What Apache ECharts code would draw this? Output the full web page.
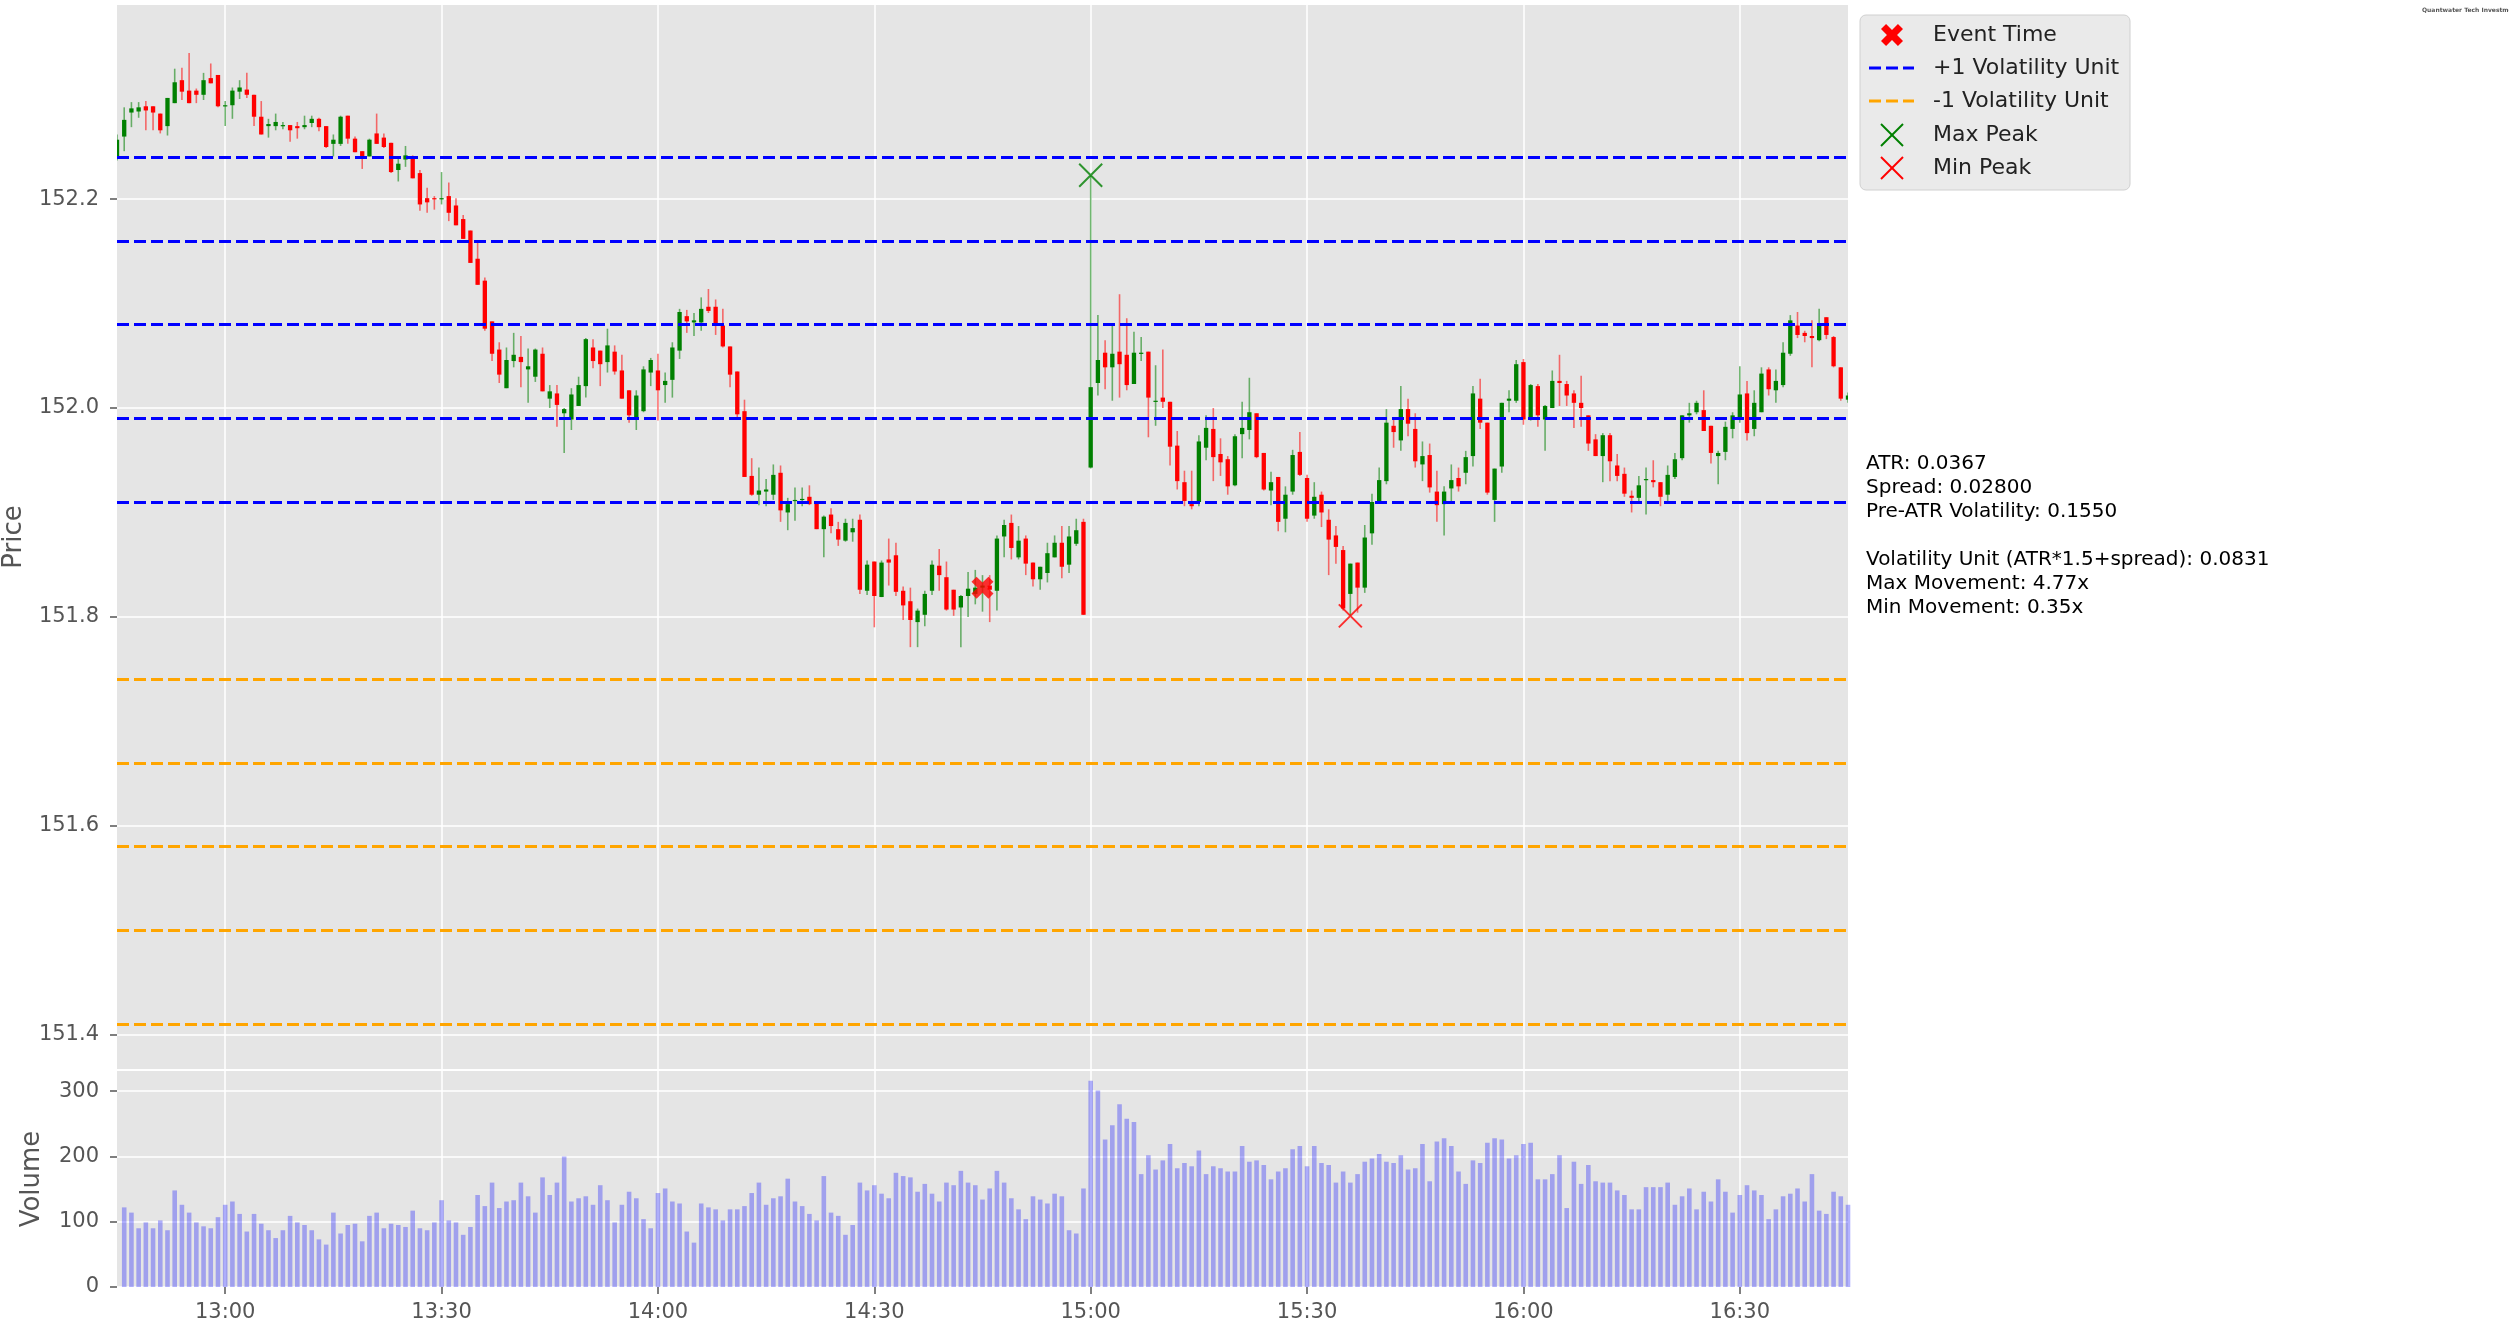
<!DOCTYPE html>
<html>
<head>
<meta charset="utf-8">
<title>Event volatility chart</title>
<script src="https://cdn.jsdelivr.net/npm/echarts@6.0.0/dist/echarts.min.js"></script>
<style>
  html, body { margin: 0; padding: 0; background: #ffffff; }
  #main { width: 2509px; height: 1325px; }
</style>
</head>
<body>
<div id="main"></div>
<script>
// 1分钟K线 12:45 - 16:45
var startMinute = 12 * 60 + 45;
var barCount = 241;
var times = [];
for (var i = 0; i < barCount; i++) {
    var m = startMinute + i;
    times.push(('0' + Math.floor(m / 60)).slice(-2) + ':' + ('0' + (m % 60)).slice(-2));
}

var openP = [
152.241,152.260,152.283,152.284,152.289,152.289,152.282,152.270,152.292,152.314,
152.304,152.304,152.300,152.316,152.319,152.289,152.290,152.303,152.305,152.300,
152.279,152.270,152.270,152.270,152.271,152.270,152.269,152.273,152.277,152.270,
152.253,152.253,152.280,152.258,152.246,152.241,152.263,152.259,152.254,152.228,
152.238,152.239,152.225,152.201,152.201,152.200,152.203,152.194,152.181,152.170,
152.143,152.122,152.083,152.056,152.019,152.045,152.049,152.037,152.030,152.052,
152.009,152.014,151.995,151.989,152.002,152.021,152.058,152.055,152.044,152.054,
152.036,152.017,151.989,151.997,152.034,152.036,152.022,152.027,152.055,152.088,
152.082,152.082,152.097,152.097,152.079,152.059,152.035,151.997,151.935,151.917,
151.920,151.917,151.938,151.900,151.911,151.912,151.915,151.910,151.884,151.898,
151.884,151.873,151.881,151.893,151.825,151.853,151.819,151.855,151.859,151.825,
151.815,151.795,151.802,151.825,151.849,151.838,151.826,151.809,151.820,151.822,
151.828,151.830,151.825,151.877,151.890,151.857,151.875,151.852,151.836,151.842,
151.857,151.871,151.850,151.870,151.891,151.943,152.024,152.053,152.039,152.054,
152.051,152.023,152.052,152.054,152.006,152.010,152.006,151.964,151.929,151.908,
151.910,151.962,151.980,151.956,151.951,151.926,151.975,151.979,151.995,151.957,
151.921,151.934,151.894,151.920,151.958,151.933,151.897,151.917,151.893,151.878,
151.864,151.822,151.852,151.828,151.880,151.910,151.930,151.983,151.969,151.999,
151.980,151.946,151.955,151.920,151.908,151.923,151.933,151.938,151.954,152.009,
151.986,151.912,151.944,152.007,152.007,152.044,151.989,152.021,151.989,152.000,
152.026,152.023,152.014,152.005,151.993,151.970,151.954,151.974,151.945,151.937,
151.916,151.914,151.931,151.931,151.929,151.917,151.934,151.952,151.993,151.996,
151.998,151.983,151.954,151.958,151.980,151.989,152.014,151.980,151.996,152.037,
152.017,152.022,152.052,152.079,152.072,152.069,152.065,152.087,152.068,152.039,
152.008
];
var closeP = [
152.257,152.276,152.287,152.288,152.285,152.283,152.266,152.297,152.312,152.303,
152.292,152.300,152.314,152.311,152.289,152.290,152.304,152.307,152.300,152.279,
152.262,152.272,152.274,152.271,152.266,152.268,152.271,152.277,152.269,152.250,
152.257,152.279,152.258,152.245,152.241,152.257,152.253,152.250,152.226,152.234,
152.242,152.220,152.195,152.197,152.200,152.201,152.187,152.175,152.162,152.139,
152.118,152.076,152.052,152.032,152.046,152.051,152.044,152.040,152.056,152.016,
152.016,152.003,151.999,152.013,152.022,152.066,152.045,152.042,152.060,152.035,
152.009,151.993,152.012,152.037,152.046,152.017,152.026,152.058,152.092,152.083,
152.084,152.095,152.093,152.080,152.059,152.032,151.994,151.934,151.917,151.921,
151.922,151.936,151.902,151.908,151.912,151.913,151.908,151.884,151.896,151.887,
151.874,151.890,151.885,151.826,151.850,151.820,151.852,151.852,151.824,151.811,
151.797,151.806,151.822,151.850,151.840,151.807,151.807,151.820,151.827,151.828,
151.830,151.826,151.875,151.888,151.866,151.873,151.851,151.836,151.848,151.861,
151.871,151.848,151.877,151.883,151.802,152.020,152.046,152.039,152.052,152.042,
152.022,152.053,152.053,152.010,152.007,152.006,151.963,151.930,151.911,151.906,
151.968,151.981,151.953,151.948,151.925,151.973,151.981,151.996,151.953,151.922,
151.929,151.891,151.917,151.955,151.936,151.894,151.915,151.900,151.874,151.867,
151.808,151.851,151.828,151.876,151.910,151.931,151.986,151.977,151.999,151.985,
151.949,151.954,151.924,151.907,151.920,151.931,151.925,151.953,152.014,151.986,
151.919,151.942,152.005,152.009,152.042,151.989,152.022,151.993,152.002,152.026,
152.024,152.012,152.005,152.000,151.966,151.954,151.974,151.949,151.935,151.918,
151.914,151.926,151.932,151.929,151.915,151.936,151.951,151.993,151.995,152.005,
151.978,151.957,151.957,151.982,151.993,152.013,151.976,152.005,152.033,152.018,
152.026,152.053,152.084,152.070,152.069,152.067,152.080,152.070,152.040,152.009,
152.012
];
var lowP = [
152.237,152.246,152.269,152.278,152.266,152.266,152.263,152.261,152.292,152.295,
152.292,152.292,152.295,152.311,152.288,152.270,152.277,152.296,152.297,152.270,
152.262,152.259,152.266,152.267,152.255,152.258,152.267,152.269,152.265,152.249,
152.241,152.251,152.253,152.245,152.229,152.241,152.253,152.249,152.225,152.217,
152.231,152.220,152.189,152.187,152.190,152.195,152.179,152.175,152.162,152.139,
152.118,152.074,152.045,152.024,152.019,152.039,152.020,152.005,152.025,152.016,
152.000,151.982,151.957,151.979,152.002,152.010,152.038,152.021,152.034,152.032,
152.009,151.986,151.979,151.996,152.021,151.988,152.005,152.010,152.047,152.072,
152.069,152.074,152.091,152.070,152.058,152.020,151.990,151.934,151.916,151.907,
151.906,151.912,151.891,151.883,151.892,151.906,151.907,151.884,151.857,151.880,
151.868,151.872,151.872,151.822,151.821,151.790,151.819,151.830,151.820,151.797,
151.771,151.771,151.791,151.821,151.825,151.806,151.801,151.771,151.800,151.812,
151.805,151.795,151.806,151.857,151.855,151.855,151.840,151.829,151.826,151.833,
151.857,151.837,151.842,151.868,151.802,151.942,152.012,152.018,152.007,152.010,
152.017,152.023,152.045,151.972,151.983,152.000,151.945,151.922,151.906,151.903,
151.906,151.950,151.930,151.935,151.917,151.925,151.952,151.970,151.952,151.921,
151.907,151.882,151.881,151.917,151.935,151.891,151.894,151.886,151.840,151.851,
151.806,151.801,151.804,151.823,151.869,151.910,151.927,151.962,151.959,151.973,
151.943,151.930,151.919,151.891,151.878,151.910,151.920,151.927,151.944,151.980,
151.917,151.891,151.938,151.996,152.005,151.984,151.988,151.982,151.959,152.000,
152.002,152.002,151.981,151.982,151.959,151.954,151.929,151.930,151.930,151.915,
151.900,151.910,151.898,151.924,151.906,151.909,151.932,151.950,151.986,151.994,
151.978,151.947,151.927,151.950,151.971,151.986,151.969,151.973,151.996,152.012,
152.005,152.020,152.050,152.067,152.063,152.039,152.064,152.066,152.039,152.007,
152.005
];
var highP = [
152.262,152.288,152.293,152.293,152.294,152.289,152.282,152.297,152.325,152.326,
152.340,152.306,152.321,152.330,152.319,152.294,152.307,152.314,152.321,152.300,
152.294,152.277,152.282,152.274,152.271,152.274,152.280,152.280,152.278,152.270,
152.262,152.280,152.280,152.260,152.246,152.258,152.282,152.263,152.254,152.241,
152.251,152.242,152.228,152.211,152.203,152.226,152.216,152.201,152.185,152.170,
152.159,152.125,152.083,152.063,152.058,152.072,152.069,152.057,152.057,152.058,
152.022,152.022,152.000,152.019,152.030,152.067,152.066,152.055,152.076,152.060,
152.051,152.017,152.017,152.040,152.048,152.052,152.034,152.063,152.095,152.094,
152.091,152.106,152.114,152.104,152.095,152.059,152.035,152.008,151.952,151.943,
151.932,151.946,151.945,151.914,151.924,151.924,151.926,151.910,151.897,151.904,
151.891,151.894,151.894,151.898,151.854,151.853,151.854,151.875,151.871,151.829,
151.828,151.808,151.825,151.854,151.865,151.853,151.826,151.821,151.843,151.845,
151.840,151.840,151.878,151.893,151.898,151.887,151.878,151.852,151.848,151.871,
151.878,151.887,151.887,151.894,151.894,152.223,152.089,152.065,152.079,152.109,
152.086,152.073,152.068,152.054,152.041,152.056,152.006,151.978,151.940,151.940,
151.974,151.993,152.000,151.971,151.954,151.975,152.006,152.029,151.995,151.957,
151.939,151.934,151.925,151.960,151.977,151.936,151.929,151.920,151.903,151.887,
151.868,151.851,151.852,151.888,151.918,151.943,151.999,151.989,152.021,152.009,
151.995,151.968,151.966,151.940,151.925,151.946,151.943,151.959,152.021,152.028,
151.986,151.942,152.005,152.017,152.046,152.047,152.023,152.023,152.003,152.036,
152.051,152.026,152.017,152.031,151.993,151.975,151.976,151.976,151.956,151.943,
151.921,151.935,151.943,151.950,151.929,151.945,151.957,151.993,152.005,152.007,
152.017,151.983,151.959,151.987,151.996,152.040,152.026,152.017,152.039,152.039,
152.037,152.063,152.089,152.092,152.074,152.084,152.095,152.087,152.069,152.039,
152.015
];
// 第一根K线没有成交量柱
var volume = [
null,122,114,90,99,90,102,87,148,126,
114,99,93,90,107,126,131,112,85,112,
97,87,75,87,109,99,95,87,73,65,
114,82,95,97,70,109,114,90,97,95,
92,117,90,87,99,133,102,99,80,92,
141,124,160,121,131,133,160,139,114,168,
141,160,200,131,136,139,126,156,133,99,
126,146,136,104,90,144,151,131,128,85,
68,128,122,119,102,119,119,124,144,160,
126,136,139,166,131,124,112,102,170,114,
109,80,95,160,148,156,143,136,175,170,
168,146,158,143,131,160,156,178,160,156,
134,151,178,160,136,119,104,139,134,128,
143,139,87,82,151,316,301,226,248,280,
258,253,173,202,180,194,219,182,190,185,
209,173,185,182,177,177,216,192,194,187,
165,177,182,211,216,185,216,190,187,160,
177,160,173,192,197,204,192,190,202,180,
182,219,162,223,228,216,177,158,194,190,
221,228,226,197,202,219,221,165,165,173,
202,121,192,158,187,162,160,160,148,141,
119,119,153,153,153,160,126,139,151,119,
146,131,165,146,114,141,156,148,141,104,
119,139,143,151,131,173,117,112,146,139,
126
];

// 波动单位线 (±1..5 个单位)
var upperLevels = [151.911, 151.994, 152.077, 152.160, 152.243];
var lowerLevels = [151.744, 151.661, 151.578, 151.495, 151.412];

var eventPoint = ['14:45', 151.828];
var maxPeakPoint = ['15:00', 152.223];
var minPeakPoint = ['15:36', 151.801];

var priceTicks = [151.4, 151.6, 151.8, 152.0, 152.2];
var volumeTicks = [0, 100, 200, 300];

var infoLines = [
    'ATR: 0.0367',
    'Spread: 0.02800',
    'Pre-ATR Volatility: 0.1550',
    '',
    'Volatility Unit (ATR*1.5+spread): 0.0831',
    'Max Movement: 4.77x',
    'Min Movement: 0.35x'
];

var FONT = 'DejaVu Sans';
var bigX = 'path://M0,-4.6L5.4,-10L10,-5.4L4.6,0L10,5.4L5.4,10L0,4.6L-5.4,10L-10,5.4L-4.6,0L-10,-5.4L-5.4,-10Z';
var thinX = 'path://M0,0L20,20M20,0L0,20';

var candleData = [];
for (var i = 0; i < barCount; i++) {
    candleData.push([i, openP[i], closeP[i], lowP[i], highP[i]]);
}

function halfHour(index, value) {
    var mm = String(value).slice(3);
    return mm === '00' || mm === '30';
}

// 画蜡烛: 影线半透明, 实体实色
function renderCandle(params, api) {
    var x = api.value(0);
    var o = api.value(1), c = api.value(2), l = api.value(3), h = api.value(4);
    var pO = api.coord([x, o]);
    var pC = api.coord([x, c]);
    var pL = api.coord([x, l]);
    var pH = api.coord([x, h]);
    var w = api.size([1, 0])[0] * 0.6;
    var col = c >= o ? '#008000' : '#ff0000';
    var top = Math.min(pO[1], pC[1]);
    var hgt = Math.max(Math.abs(pO[1] - pC[1]), 1.2);
    return {
        type: 'group',
        children: [
            { type: 'line', shape: { x1: pH[0], y1: pH[1], x2: pL[0], y2: pL[1] },
              style: { stroke: col, lineWidth: 1.6, opacity: 0.55 } },
            { type: 'rect', shape: { x: pO[0] - w / 2, y: top, width: w, height: hgt },
              style: { fill: col } }
        ]
    };
}

// 图例里的粗 X (与 bigX 同形)
function bigXPoints(cx, cy, s) {
    var k = s / 20;
    var pts = [[0,-4.6],[5.4,-10],[10,-5.4],[4.6,0],[10,5.4],[5.4,10],[0,4.6],[-5.4,10],[-10,5.4],[-4.6,0],[-10,-5.4],[-5.4,-10]];
    return pts.map(function (p) { return [cx + p[0] * k, cy + p[1] * k]; });
}

var myChart = echarts.init(document.getElementById('main'), null, { renderer: 'canvas' });

var legendX = 1892, textX = 1933;
var rowY = [35, 68, 101, 135, 168];

var option = {
    animation: false,
    backgroundColor: '#ffffff',
    textStyle: { fontFamily: FONT },
    grid: [
        { left: 117, top: 5, width: 1731, height: 1064, show: true, backgroundColor: '#E5E5E5', borderWidth: 0,
          containLabel: false, outerBoundsMode: 'none' },
        { left: 117, top: 1071, width: 1731, height: 216, show: true, backgroundColor: '#E5E5E5', borderWidth: 0,
          containLabel: false, outerBoundsMode: 'none' }
    ],
    xAxis: [
        {
            type: 'category', gridIndex: 0, data: times, boundaryGap: false,
            axisLine: { show: false }, axisTick: { show: false }, axisLabel: { show: false },
            splitLine: { show: true, interval: halfHour, lineStyle: { color: '#ffffff', width: 1.5 } }
        },
        {
            type: 'category', gridIndex: 1, data: times, boundaryGap: false,
            axisLine: { show: false },
            axisTick: { show: true, interval: halfHour, length: 7, lineStyle: { color: '#555555', width: 1.5 } },
            axisLabel: { interval: halfHour, color: '#555555', fontSize: 21, margin: 15, fontFamily: FONT },
            splitLine: { show: true, interval: halfHour, lineStyle: { color: '#ffffff', width: 1.5 } }
        }
    ],
    yAxis: [
        {
            type: 'value', gridIndex: 0, min: 151.367, max: 152.386,
            name: 'Price', nameLocation: 'middle', nameGap: 90,
            nameTextStyle: { fontSize: 26, color: '#555555', fontFamily: FONT },
            axisLine: { show: false },
            axisTick: { show: true, customValues: priceTicks, length: 7, lineStyle: { color: '#555555', width: 1.5 } },
            axisLabel: { customValues: priceTicks, color: '#555555', fontSize: 21, margin: 18, fontFamily: FONT,
                formatter: function (v) { return Number(v).toFixed(1); } },
            splitLine: { show: true, lineStyle: { color: '#ffffff', width: 1.5 } }
        },
        {
            type: 'value', gridIndex: 1, min: 0, max: 331,
            name: 'Volume', nameLocation: 'middle', nameGap: 72,
            nameTextStyle: { fontSize: 26, color: '#555555', fontFamily: FONT },
            axisLine: { show: false },
            axisTick: { show: true, customValues: volumeTicks, length: 7, lineStyle: { color: '#555555', width: 1.5 } },
            axisLabel: { customValues: volumeTicks, color: '#555555', fontSize: 21, margin: 18, fontFamily: FONT },
            splitLine: { show: true, lineStyle: { color: '#ffffff', width: 1.5 } }
        }
    ],
    series: [
        {
            name: 'Price', type: 'custom', xAxisIndex: 0, yAxisIndex: 0,
            renderItem: renderCandle, data: candleData, clip: true, z: 2,
            encode: { x: 0, y: [1, 2, 3, 4] }
        },
        {
            name: 'Volume', type: 'bar', xAxisIndex: 1, yAxisIndex: 1,
            data: volume, barWidth: 4.6, clip: true,
            itemStyle: { color: 'rgba(0,0,255,0.3)' }
        },
        {
            name: '+1 Volatility Unit', type: 'line', xAxisIndex: 0, yAxisIndex: 0, data: [], z: 3,
            markLine: {
                silent: true, symbol: ['none', 'none'], label: { show: false },
                lineStyle: { color: '#0000ff', type: [12, 5], width: 3 },
                data: upperLevels.map(function (v) { return { yAxis: v }; })
            }
        },
        {
            name: '-1 Volatility Unit', type: 'line', xAxisIndex: 0, yAxisIndex: 0, data: [], z: 3,
            markLine: {
                silent: true, symbol: ['none', 'none'], label: { show: false },
                lineStyle: { color: '#ffa500', type: [12, 5], width: 3 },
                data: lowerLevels.map(function (v) { return { yAxis: v }; })
            }
        },
        {
            name: 'Event Time', type: 'scatter', xAxisIndex: 0, yAxisIndex: 0, z: 5,
            data: [eventPoint], symbol: bigX, symbolSize: 22,
            itemStyle: { color: '#ff0000' }
        },
        {
            name: 'Max Peak', type: 'scatter', xAxisIndex: 0, yAxisIndex: 0, z: 5,
            data: [maxPeakPoint], symbol: thinX, symbolSize: 23,
            itemStyle: { color: 'rgba(0,0,0,0)', borderColor: '#008000', borderWidth: 2 }
        },
        {
            name: 'Min Peak', type: 'scatter', xAxisIndex: 0, yAxisIndex: 0, z: 5,
            data: [minPeakPoint], symbol: thinX, symbolSize: 23,
            itemStyle: { color: 'rgba(0,0,0,0)', borderColor: '#ff0000', borderWidth: 2 }
        }
    ],
    graphic: [
        // 图例框
        { type: 'rect', shape: { x: 1860, y: 15, width: 270, height: 175, r: 6 },
          style: { fill: '#EAEAEA', stroke: '#d0d0d0', lineWidth: 1 } },
        { type: 'polygon', shape: { points: bigXPoints(legendX, rowY[0], 22) }, style: { fill: '#ff0000' } },
        { type: 'line', shape: { x1: 1869, y1: rowY[1], x2: 1914, y2: rowY[1] },
          style: { stroke: '#0000ff', lineWidth: 3, lineDash: [12, 5] } },
        { type: 'line', shape: { x1: 1869, y1: rowY[2], x2: 1914, y2: rowY[2] },
          style: { stroke: '#ffa500', lineWidth: 3, lineDash: [12, 5] } },
        { type: 'line', shape: { x1: legendX - 11, y1: rowY[3] - 11, x2: legendX + 11, y2: rowY[3] + 11 },
          style: { stroke: '#008000', lineWidth: 2 } },
        { type: 'line', shape: { x1: legendX + 11, y1: rowY[3] - 11, x2: legendX - 11, y2: rowY[3] + 11 },
          style: { stroke: '#008000', lineWidth: 2 } },
        { type: 'line', shape: { x1: legendX - 11, y1: rowY[4] - 11, x2: legendX + 11, y2: rowY[4] + 11 },
          style: { stroke: '#ff0000', lineWidth: 2 } },
        { type: 'line', shape: { x1: legendX + 11, y1: rowY[4] - 11, x2: legendX - 11, y2: rowY[4] + 11 },
          style: { stroke: '#ff0000', lineWidth: 2 } },
        { type: 'text', x: textX, y: rowY[0], style: { text: 'Event Time', fontSize: 22, fontFamily: FONT, fill: '#222222', verticalAlign: 'middle' } },
        { type: 'text', x: textX, y: rowY[1], style: { text: '+1 Volatility Unit', fontSize: 22, fontFamily: FONT, fill: '#222222', verticalAlign: 'middle' } },
        { type: 'text', x: textX, y: rowY[2], style: { text: '-1 Volatility Unit', fontSize: 22, fontFamily: FONT, fill: '#222222', verticalAlign: 'middle' } },
        { type: 'text', x: textX, y: rowY[3], style: { text: 'Max Peak', fontSize: 22, fontFamily: FONT, fill: '#222222', verticalAlign: 'middle' } },
        { type: 'text', x: textX, y: rowY[4], style: { text: 'Min Peak', fontSize: 22, fontFamily: FONT, fill: '#222222', verticalAlign: 'middle' } },
        // 统计信息
        { type: 'text', x: 1866, y: 452,
          style: { text: infoLines.join('\n'), fontSize: 20, lineHeight: 24, fontFamily: FONT, fill: '#000000' } },
        // 右上角水印
        { type: 'text', x: 2422, y: 7,
          style: { text: 'Quantwater Tech Investment', fontSize: 6, fontWeight: 'bold', fontFamily: FONT, fill: '#555555' } }
    ]
};

myChart.setOption(option);
window.addEventListener('resize', function () {
    myChart.resize();
});
</script>
</body>
</html>
